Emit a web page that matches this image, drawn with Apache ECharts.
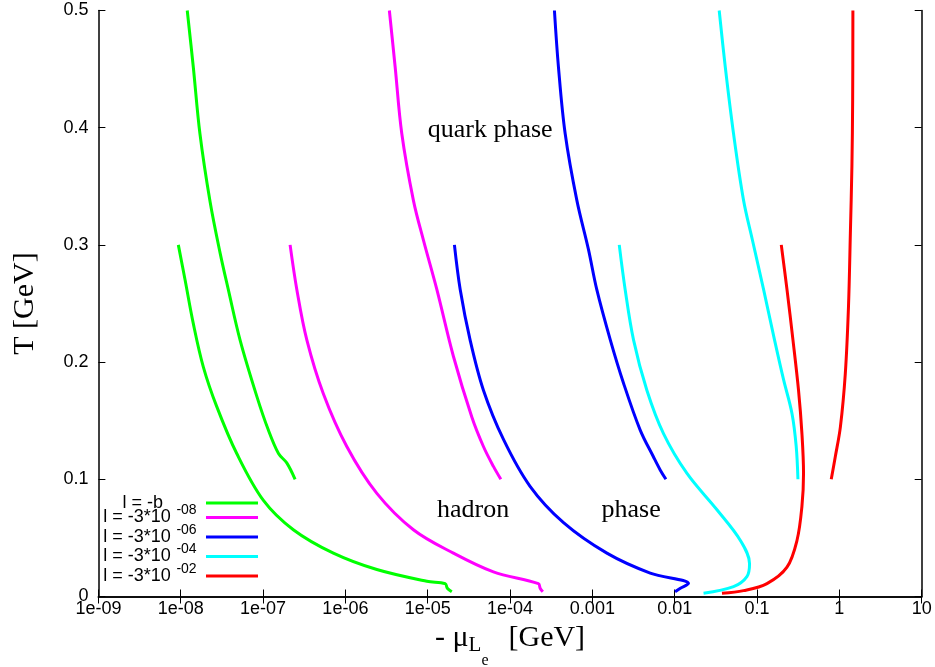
<!DOCTYPE html>
<html><head><meta charset="utf-8">
<script src="https://cdn.jsdelivr.net/npm/echarts@6/dist/echarts.min.js"></script>
<style>html,body{margin:0;padding:0;background:#fff}#c{width:935px;height:667px}</style>
</head><body><div id="c"></div>
<script>
// ---- tick labels ----
const xTickLabels = ['1e-09','1e-08','1e-07','1e-06','1e-05','1e-04','0.001','0.01','0.1','1','10'];
const yTickLabels = ['0','0.1','0.2','0.3','0.4','0.5'];

// ---- legend / series names ----
const seriesNames = ['l = -b','l = -3*10^-08','l = -3*10^-06','l = -3*10^-04','l = -3*10^-02'];
const legendMain = ['l = -b','l = -3*10','l = -3*10','l = -3*10','l = -3*10'];
const legendSup  = ['','-08','-06','-04','-02'];

// ---- data: [ -mu (GeV), T (GeV) ] ----
const greenUpper = [[1.20e-8,0.500],[1.42e-8,0.452],[1.71e-8,0.395],[2.27e-8,0.337],[3.01e-8,0.293],[3.78e-8,0.262],[5.25e-8,0.219],[8.38e-8,0.171],[1.16e-7,0.142],[1.54e-7,0.122],[1.94e-7,0.114],[2.45e-7,0.100]];
const greenLower = [[9.35e-9,0.300],[1.13e-8,0.270],[1.42e-8,0.233],[1.88e-8,0.196],[2.74e-8,0.162],[4.79e-8,0.122],[1.01e-7,0.082],[2.33e-7,0.057],[7.15e-7,0.037],[2.41e-6,0.023],[9.75e-6,0.013],[1.63e-5,0.011],[1.73e-5,0.007],[1.96e-5,0.004]];
const magentaUpper = [[3.42e-6,0.500],[4.02e-6,0.452],[4.84e-6,0.395],[6.70e-6,0.338],[8.87e-6,0.304],[1.29e-5,0.262],[2.05e-5,0.205],[3.44e-5,0.153],[4.75e-5,0.128],[6.28e-5,0.111],[7.73e-5,0.100]];
const magentaLower = [[2.13e-7,0.300],[2.57e-7,0.262],[3.40e-7,0.219],[5.40e-7,0.173],[1.04e-6,0.128],[2.41e-6,0.088],[6.70e-6,0.057],[2.05e-5,0.037],[6.28e-5,0.021],[2.21e-4,0.011],[2.32e-4,0.007],[2.50e-4,0.004]];
const blueUpper = [[3.46e-4,0.500],[3.87e-4,0.452],[4.67e-4,0.395],[6.48e-4,0.338],[8.97e-4,0.296],[1.13e-3,0.262],[1.65e-3,0.219],[2.39e-3,0.182],[3.81e-3,0.142],[5.53e-3,0.119],[6.66e-3,0.108],[7.82e-3,0.100]];
const blueLower = [[2.11e-5,0.300],[2.48e-5,0.262],[3.27e-5,0.219],[4.75e-5,0.176],[8.32e-5,0.134],[1.75e-4,0.094],[4.46e-4,0.063],[1.50e-3,0.037],[5.04e-3,0.020],[1.47e-2,0.011],[1.17e-2,0.007],[1.01e-2,0.004]];
const cyanUpper = [[3.47e-2,0.500],[4.11e-2,0.452],[5.18e-2,0.395],[6.86e-2,0.338],[8.80e-2,0.304],[0.120,0.262],[0.163,0.219],[0.210,0.185],[0.266,0.156],[0.299,0.128],[0.314,0.100]];
const cyanLower = [[2.12e-3,0.300],[2.50e-3,0.262],[3.16e-3,0.219],[4.59e-3,0.176],[7.31e-3,0.139],[1.41e-2,0.105],[3.26e-2,0.074],[6.25e-2,0.048],[8.11e-2,0.028],[7.53e-2,0.017],[5.18e-2,0.0084],[2.24e-2,0.0027]];
const redUpper = [[1.46,0.500],[1.45,0.424],[1.42,0.367],[1.36,0.310],[1.29,0.247],[1.18,0.190],[1.03,0.145],[0.891,0.119],[0.797,0.100]];
const redLower = [[0.197,0.300],[0.231,0.262],[0.273,0.219],[0.319,0.176],[0.351,0.139],[0.367,0.105],[0.351,0.077],[0.306,0.048],[0.231,0.025],[0.132,0.011],[0.0686,0.005],[0.0375,0.0027]];

// ---- annotations: [text, x, T] ----
const annotations = [['quark phase',5.73e-5,0.398],['hadron',3.56e-5,0.0738],['phase',2.96e-3,0.0738]];

const colors = ['#00ff00','#ff00ff','#0000ff','#00ffff','#ff0000'];
const curves = [[greenUpper,greenLower],[magentaUpper,magentaLower],[blueUpper,blueLower],[cyanUpper,cyanLower],[redUpper,redLower]];

const SANS = 'Liberation Sans, Arial, sans-serif';
const SERIF = 'Liberation Serif, Times New Roman, serif';

const series = [];
curves.forEach((pair, i) => {
  pair.forEach(d => {
    series.push({
      name: seriesNames[i], type: 'line', data: d, showSymbol: false, smooth: 0.35,
      xAxisIndex: 0, yAxisIndex: 0,
      lineStyle: { color: colors[i], width: 3, join: 'round' }, itemStyle: { color: colors[i] },
      emphasis: { disabled: true }, silent: true
    });
  });
});

const tickStyle = { show: true, inside: true, length: 7, lineStyle: { color: '#000', width: 1 } };
const lineStyle = { show: true, lineStyle: { color: '#000', width: 1.5 } };

const chart = echarts.init(document.getElementById('c'), null, { renderer: 'canvas' });
const option = {
  animation: false,
  backgroundColor: '#fff',
  grid: { left: 98.4, right: 13.3, top: 10.5, bottom: 70.5, outerBoundsMode: 'none', containLabel: false },
  xAxis: [{
    type: 'log', logBase: 10, min: 1e-9, max: 10, interval: 1, position: 'bottom',
    axisLine: lineStyle, axisTick: tickStyle, splitLine: { show: false }, minorTick: { show: false },
    axisLabel: { show: true, margin: 4, color: '#000', fontFamily: SANS, fontSize: 18, showMinLabel: true, showMaxLabel: true,
      formatter: v => xTickLabels[Math.round(Math.log10(v)) + 9] },
    name: '{a|- μ}{s|L}{e|e}{b|[GeV]}', nameLocation: 'middle', nameGap: 19,
    nameTextStyle: { rich: {
      a: { fontFamily: SERIF, fontSize: 30, lineHeight: 32, verticalAlign: 'top', color: '#000' },
      s: { fontFamily: SERIF, fontSize: 21, lineHeight: 21, padding: [12,0,0,0], verticalAlign: 'top', color: '#000' },
      e: { fontFamily: SERIF, fontSize: 16, lineHeight: 16, padding: [29,0,0,0], verticalAlign: 'top', color: '#000' },
      b: { fontFamily: SERIF, fontSize: 30, lineHeight: 32, padding: [0,0,0,20], verticalAlign: 'top', color: '#000' }
    } }
  }, {
    type: 'log', logBase: 10, min: 1e-9, max: 10, interval: 1, position: 'top',
    axisLine: lineStyle, axisTick: tickStyle, axisLabel: { show: false }, splitLine: { show: false }
  }],
  yAxis: [{
    type: 'value', min: 0, max: 0.5, interval: 0.1, position: 'left',
    axisLine: lineStyle, axisTick: tickStyle, splitLine: { show: false },
    axisLabel: { margin: 10, color: '#000', fontFamily: SANS, fontSize: 18,
      formatter: v => yTickLabels[Math.round(v * 10)] },
    name: 'T [GeV]', nameLocation: 'middle', nameGap: 58, nameRotate: 90,
    nameTextStyle: { fontFamily: SERIF, fontSize: 30, color: '#000' }
  }, {
    type: 'value', min: 0, max: 0.5, interval: 0.1, position: 'right',
    axisLine: lineStyle, axisTick: tickStyle, axisLabel: { show: false }, splitLine: { show: false }
  }],
  legend: {
    data: seriesNames, orient: 'vertical', left: 102, top: 494, padding: 0, itemGap: -8.5,
    itemWidth: 52, itemHeight: 3, icon: 'rect', align: 'right', selectedMode: false,
    formatter: name => {
      const i = seriesNames.indexOf(name);
      if (!legendSup[i]) return '{mb|' + legendMain[i] + '}';
      return '{m|' + legendMain[i] + '}{s|' + legendSup[i] + '}';
    },
    textStyle: { color: '#000', rich: {
      m: { fontFamily: SANS, fontSize: 18, lineHeight: 20, width: 70, align: 'right', verticalAlign: 'middle', color: '#000' },
      mb: { fontFamily: SANS, fontSize: 18, lineHeight: 20, padding: [0,38,0,0], width: 61, align: 'right', verticalAlign: 'middle', color: '#000' },
      s: { fontFamily: SANS, fontSize: 14, lineHeight: 14, padding: [0,0,14,0], width: 29, align: 'left', verticalAlign: 'middle', color: '#000' }
    } }
  },
  series: series
};
chart.setOption(option);

const graphics = annotations.map(a => {
  const p = chart.convertToPixel({ xAxisIndex: 0, yAxisIndex: 0 }, [a[1], a[2]]);
  return { type: 'text', x: p[0], y: p[1], silent: true,
    style: { text: a[0], fontFamily: SERIF, fontSize: 26, fill: '#000', align: 'center', verticalAlign: 'middle' } };
});
chart.setOption({ graphic: graphics });
</script>
</body></html>
